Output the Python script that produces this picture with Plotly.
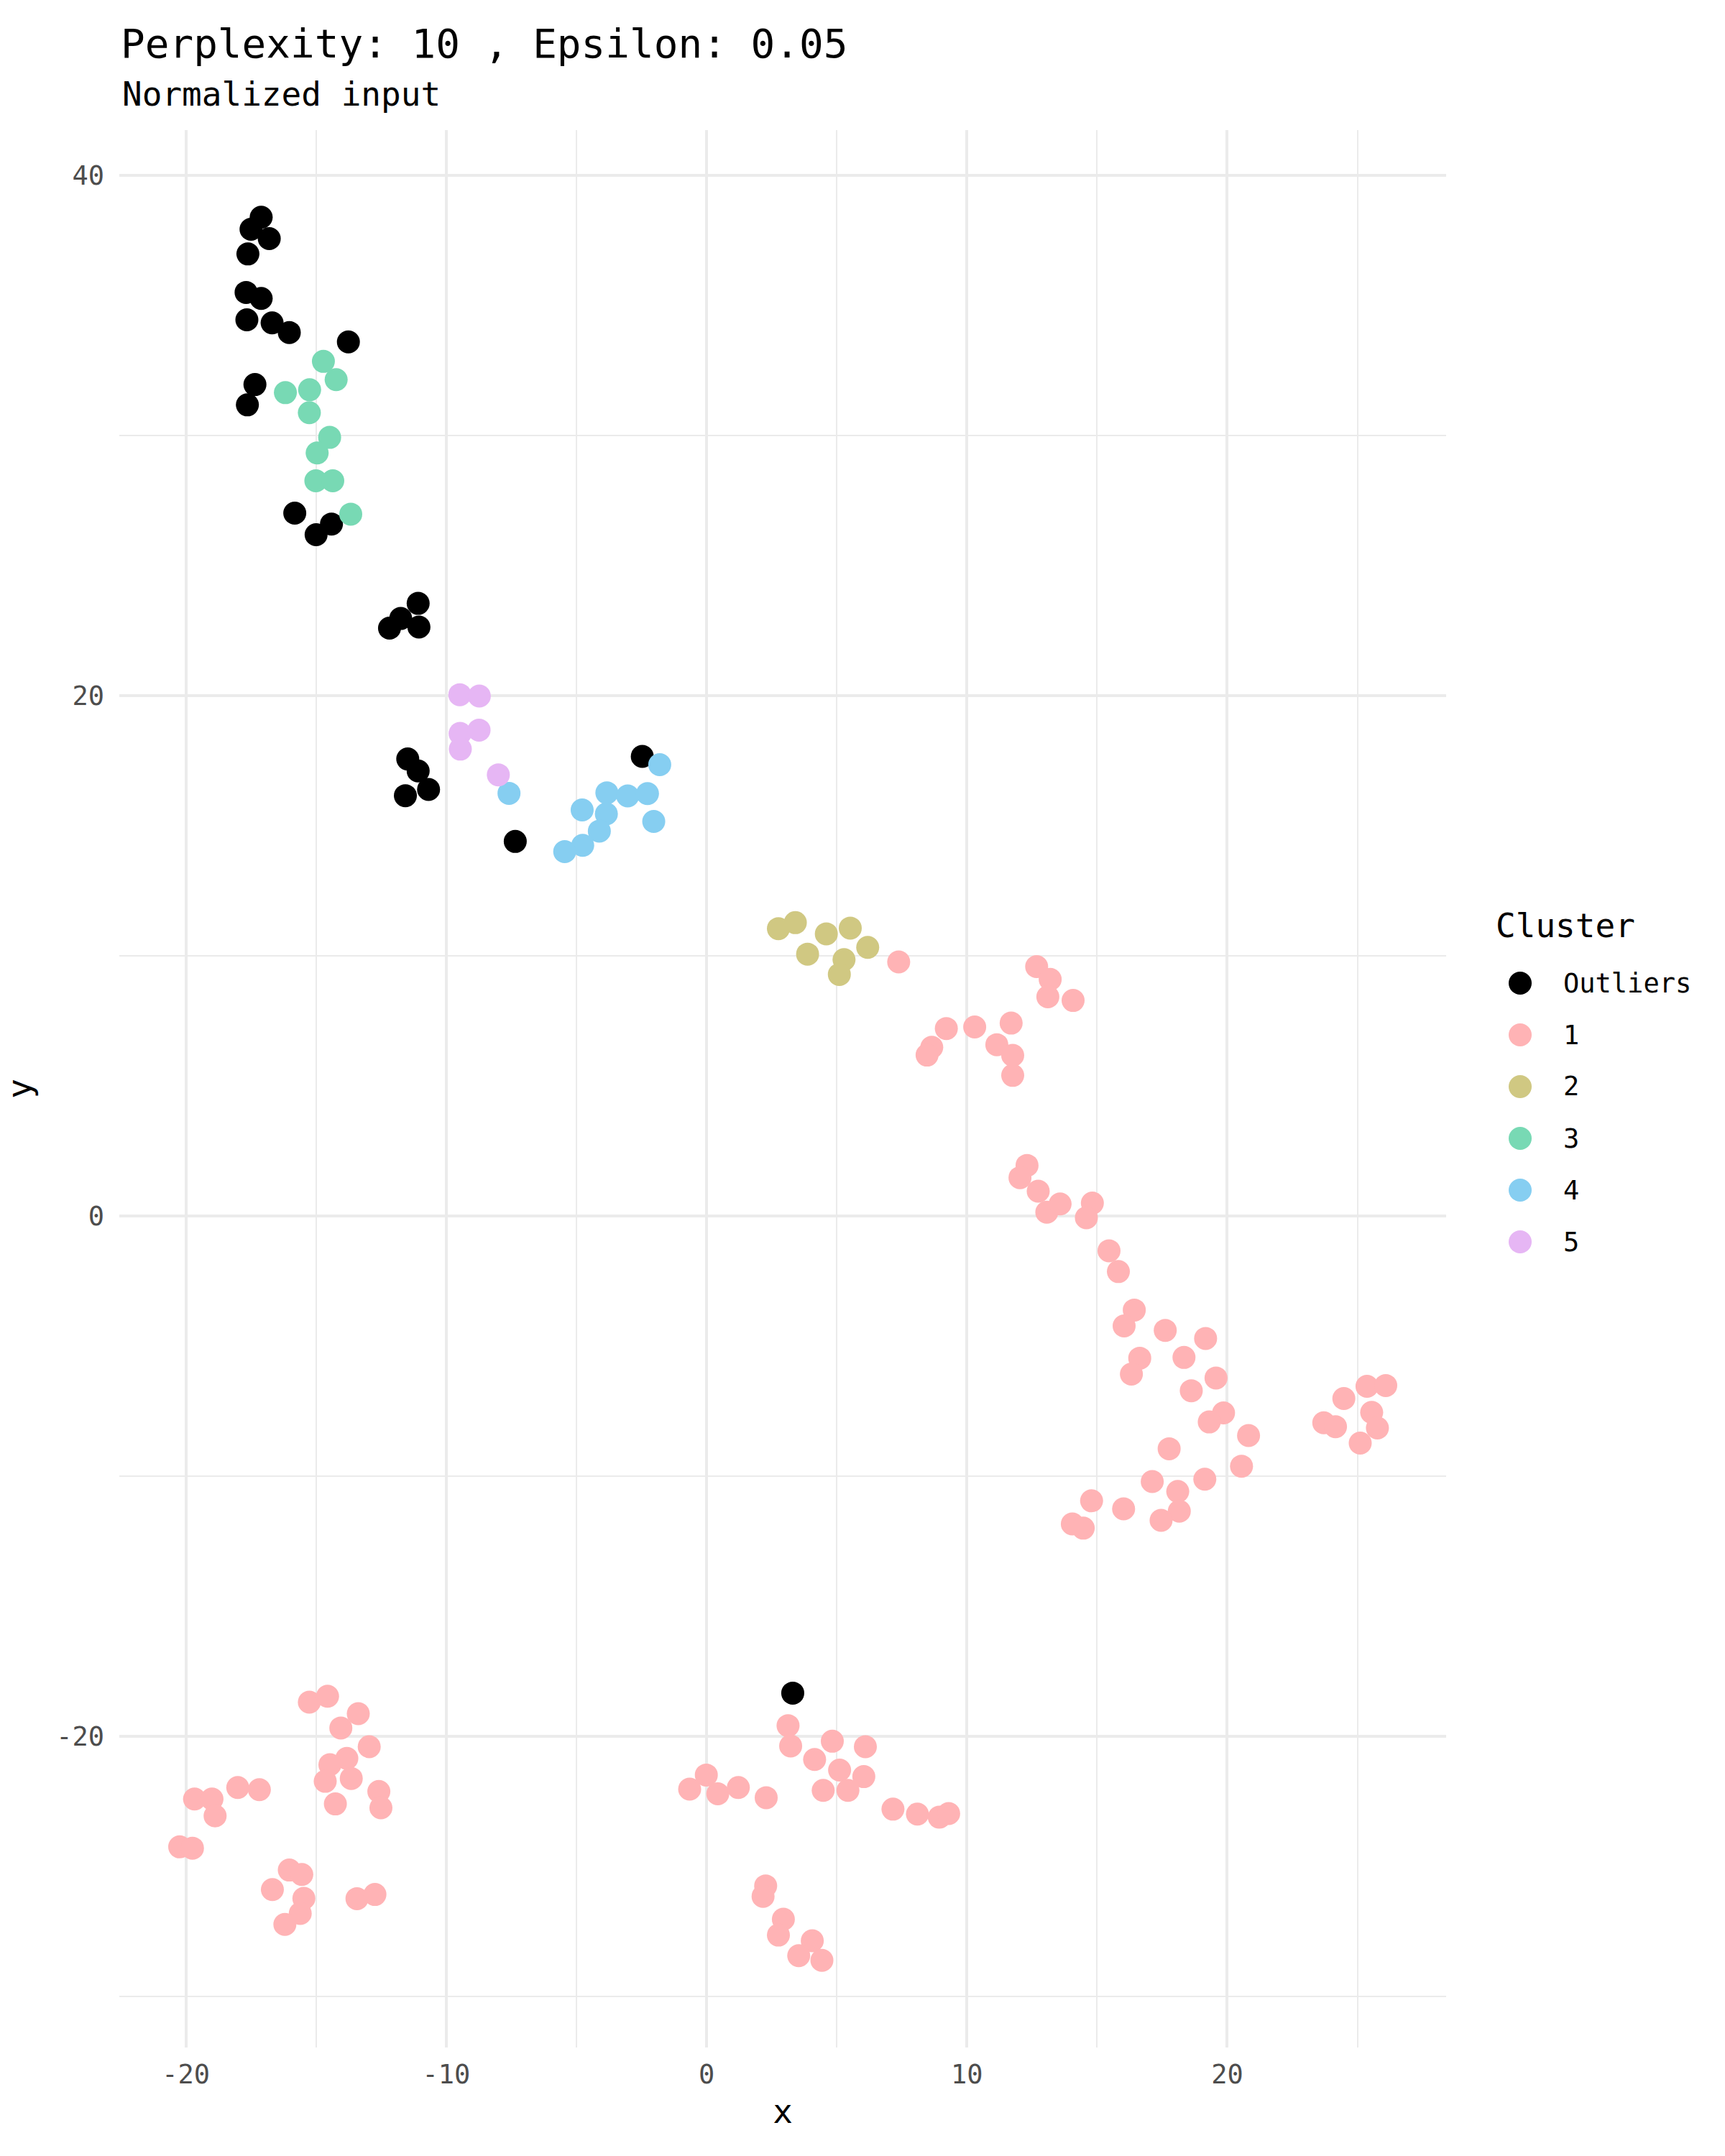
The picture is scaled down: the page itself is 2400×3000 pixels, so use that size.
import plotly.graph_objects as go

# ---------------- data ----------------
cluster_names = ["Outliers", "1", "2", "3", "4", "5"]
cluster_colors = ["#000000", "#FFB3B5", "#D0C882", "#78D9B4", "#86CEF1", "#E6B6F4"]

x_outliers = [-17.11, -17.50, -16.80, -17.62, -17.69, -17.11, -17.66, -16.69, -16.03, -13.76,
              -17.35, -17.64, -15.82, -14.41, -15.00, -11.08, -11.75, -12.18, -11.05, -11.48,
              -11.08, -11.57, -10.68, -7.35, -2.47, 3.31]
y_outliers = [38.39, 37.93, 37.57, 36.98, 35.50, 35.27, 34.45, 34.33, 33.96, 33.60,
              31.96, 31.18, 27.02, 26.60, 26.19, 23.55, 22.97, 22.60, 22.64, 17.57,
              17.11, 16.16, 16.40, 14.40, 17.67, -18.33]

x_c1 = [7.38, 12.68, 13.20, 13.11, 14.08, 9.21, 10.30, 11.70, 8.65, 8.47, 11.15, 11.76, 11.76,
        12.31, 12.04, 12.74, 13.07, 13.58, 14.82, 14.59, 15.46, 15.82, 16.43, 16.04, 17.62, 19.17,
        16.64, 16.32, 18.34, 19.57, 18.62, 19.86, 19.31, 20.82, 17.77, 20.55, 17.12, 19.14, 18.10,
        16.02, 18.16, 17.46, 14.79, 14.05, 14.47,
        24.48, 25.37, 26.09, 25.55, 23.71, 24.16, 25.77, 25.11,
        -15.26, -14.56, -13.38, -14.05, -12.96, -13.82, -14.47, -14.65, -13.65, -12.59, -12.51,
        -14.26, -19.67, -19.00, -18.88, -18.01, -17.18, -20.24, -19.75, -16.03, -15.55, -16.68,
        -15.47, -15.61, -16.20, -13.43, -12.74,
        3.13, 3.23, 4.83, 6.10, 4.15, 5.11, 6.04, 4.48, 5.43, -0.01, -0.65, 0.43, 1.22, 2.29,
        7.16, 8.10, 8.94, 9.30, 2.27, 2.17, 2.95, 2.76, 4.06, 3.54, 4.43]
y_c1 = [9.77, 9.59, 9.10, 8.43, 8.29, 7.21, 7.27, 7.42, 6.49, 6.19, 6.59, 6.18, 5.41,
        1.95, 1.48, 0.96, 0.15, 0.47, 0.50, -0.06, -1.33, -2.13, -3.61, -4.22, -4.39, -4.70,
        -5.46, -6.07, -5.43, -6.22, -6.71, -7.56, -7.91, -8.43, -8.94, -9.61, -10.20, -10.11, -10.58,
        -11.25, -11.34, -11.69, -10.94, -11.83, -11.99,
        -7.01, -6.54, -6.51, -7.54, -7.94, -8.09, -8.14, -8.72,
        -18.68, -18.45, -19.12, -19.67, -20.39, -20.84, -21.08, -21.72, -21.61, -22.11, -22.74,
        -22.59, -22.40, -22.40, -23.05, -21.96, -22.04, -24.24, -24.29, -25.13, -25.30, -25.88,
        -26.22, -26.80, -27.22, -26.23, -26.07,
        -19.58, -20.36, -20.18, -20.39, -20.88, -21.29, -21.54, -22.07, -22.07, -21.48, -22.02,
        -22.20, -21.96, -22.35, -22.79, -22.98, -23.10, -22.96, -25.74, -26.14, -27.02, -27.63,
        -27.85, -28.42, -28.60]

x_c2 = [2.76, 3.41, 4.60, 5.52, 3.88, 6.19, 5.28, 5.10]
y_c2 = [11.05, 11.28, 10.85, 11.07, 10.07, 10.33, 9.86, 9.29]

x_c3 = [-14.72, -14.23, -16.18, -15.25, -15.26, -14.48, -14.96, -15.01, -14.36, -13.67]
y_c3 = [32.85, 32.15, 31.65, 31.76, 30.88, 29.93, 29.33, 28.26, 28.26, 26.98]

x_c4 = [-7.59, -1.80, -3.83, -3.03, -2.27, -4.78, -3.85, -2.03, -4.12, -4.76, -5.45]
y_c4 = [16.25, 17.35, 16.27, 16.15, 16.24, 15.61, 15.46, 15.17, 14.80, 14.25, 14.01]

x_c5 = [-9.48, -8.73, -9.47, -8.74, -9.46, -8.00]
y_c5 = [20.04, 19.99, 18.55, 18.68, 17.95, 16.96]

x_major_ticks = [-20, -10, 0, 10, 20]
x_tick_labels = ["-20", "-10", "0", "10", "20"]
y_major_ticks = [-20, 0, 20, 40]
y_tick_labels = ["-20", "0", "20", "40"]

title_text = "Perplexity: 10 , Epsilon: 0.05"
subtitle_text = "Normalized input"
legend_title = "Cluster"

# ---------------- figure ----------------
FONT = "DejaVu Sans Mono"
W_FIG, H_FIG = 2400, 3000
L, R, T, B = 166, 388, 181, 151
PW, PH = W_FIG - L - R, H_FIG - T - B


def paper_x(px):
    return (px - L) / PW


def paper_y(py):
    return 1 - (py - T) / PH


xs = [x_outliers, x_c1, x_c2, x_c3, x_c4, x_c5]
ys = [y_outliers, y_c1, y_c2, y_c3, y_c4, y_c5]

fig = go.Figure()
for name, col, xv, yv in zip(cluster_names, cluster_colors, xs, ys):
    fig.add_trace(go.Scatter(
        x=xv, y=yv, mode="markers", name=name,
        marker=dict(color=col, size=32, line=dict(width=0)),
        showlegend=False,
    ))

grid_major = "#EBEBEB"

fig.update_layout(
    width=W_FIG, height=H_FIG,
    margin=dict(l=L, r=R, t=T, b=B, autoexpand=False),
    paper_bgcolor="white", plot_bgcolor="white",
    font=dict(family=FONT, color="black"),
    title=dict(text=title_text, font=dict(family=FONT, size=56, color="black"),
               x=168 / W_FIG, xref="container", xanchor="left",
               y=1 - 41 / H_FIG, yref="container", yanchor="top"),
    xaxis=dict(range=[-22.56, 28.41], tickvals=x_major_ticks, ticktext=x_tick_labels,
               showgrid=True, gridcolor=grid_major, gridwidth=3.6, zeroline=False,
               showline=False, ticks="", ticklabelstandoff=12,
               tickfont=dict(family=FONT, size=37, color="#4D4D4D"),
               minor=dict(tick0=-25, dtick=10, showgrid=True, gridcolor=grid_major, gridwidth=2.2),
               title=dict(text="x", font=dict(family=FONT, size=46, color="black"), standoff=14),
               automargin=False),
    yaxis=dict(range=[-31.95, 41.74], tickvals=y_major_ticks, ticktext=y_tick_labels,
               showgrid=True, gridcolor=grid_major, gridwidth=3.6, zeroline=False,
               showline=False, ticks="", ticklabelstandoff=20,
               tickfont=dict(family=FONT, size=37, color="#4D4D4D"),
               minor=dict(tick0=-30, dtick=20, showgrid=True, gridcolor=grid_major, gridwidth=2.2),
               title=dict(text="y", font=dict(family=FONT, size=46, color="black"), standoff=22),
               automargin=False),
    showlegend=False,
)

annotations = [
    dict(text=subtitle_text, xref="paper", yref="paper", x=paper_x(168), y=paper_y(131),
         xanchor="left", yanchor="middle", showarrow=False,
         font=dict(family=FONT, size=46, color="black")),
    dict(text=legend_title, xref="paper", yref="paper", x=paper_x(2079), y=paper_y(1288),
         xanchor="left", yanchor="middle", showarrow=False,
         font=dict(family=FONT, size=46, color="black")),
]
shapes = []
entry_y0, entry_gap = 1368, 72
for i, (name, col) in enumerate(zip(cluster_names, cluster_colors)):
    cy = entry_y0 + i * entry_gap
    shapes.append(dict(type="circle", xref="paper", yref="paper",
                       xsizemode="pixel", ysizemode="pixel",
                       xanchor=paper_x(2115), yanchor=paper_y(cy),
                       x0=-16, x1=16, y0=-16, y1=16,
                       fillcolor=col, line=dict(width=0)))
    annotations.append(dict(text=name, xref="paper", yref="paper", x=paper_x(2173), y=paper_y(cy),
                            xanchor="left", yanchor="middle", showarrow=False,
                            font=dict(family=FONT, size=37, color="black")))

fig.update_layout(annotations=annotations, shapes=shapes)

fig.write_html("out.html")
